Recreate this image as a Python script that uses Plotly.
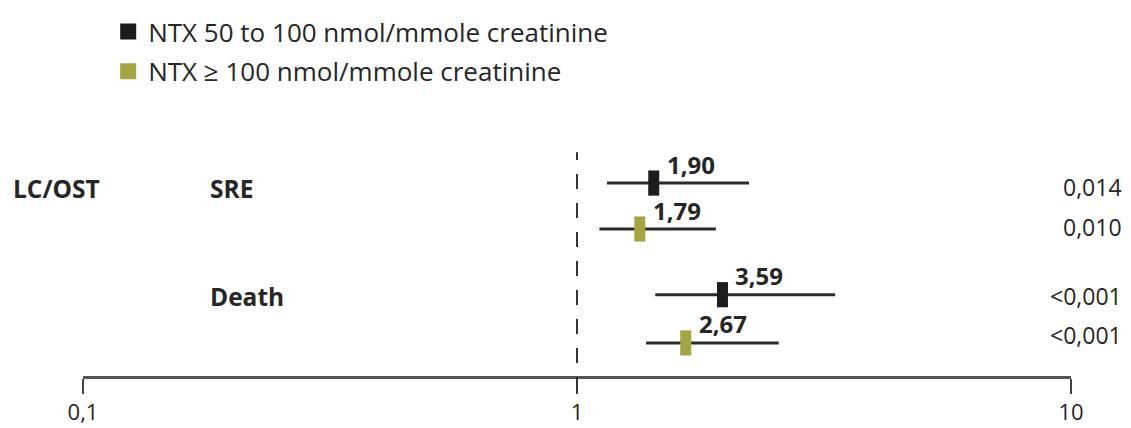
import math
import plotly.graph_objects as go

# ---- data ----
series_names = ["NTX 50 to 100 nmol/mmole creatinine", "NTX \u2265 100 nmol/mmole creatinine"]
series_colors = ["#1c1c1c", "#a4a545"]
group_label = "LC/OST"
outcome_labels = ["SRE", "Death"]
# rows: SRE (series 1), SRE (series 2), Death (series 1), Death (series 2)
row_series = [0, 1, 0, 1]
row_outcome = [0, 0, 1, 1]
hr_est = [1.43, 1.34, 1.97, 1.66]      # marker position as drawn
ci_low = [1.15, 1.11, 1.44, 1.38]
ci_high = [2.23, 1.91, 3.33, 2.56]
hr_labels = ["1,90", "1,79", "3,59", "2,67"]
p_values = ["0,014", "0,010", "<0,001", "<0,001"]
tick_vals = [0.1, 1, 10]
tick_text = ["0,1", "1", "10"]

# ---- layout constants ----
row_pos = [0, 1, 2.43, 3.48]
p_shift = [-3.5, 2.5, -1.5, 7.5]
FONT = "Open Sans"
TXT = "#262626"

fig = go.Figure()

for s, (name, color) in enumerate(zip(series_names, series_colors)):
    idx = [i for i in range(len(hr_est)) if row_series[i] == s]
    xs = [hr_est[i] for i in idx]
    fig.add_trace(go.Scatter(
        x=xs, y=[row_pos[i] for i in idx], mode="markers", showlegend=False,
        marker=dict(symbol="line-ns", size=18, color=color,
                    line=dict(width=11, color=color)),
        error_x=dict(type="data", symmetric=False,
                     array=[ci_high[i] - hr_est[i] for i in idx],
                     arrayminus=[hr_est[i] - ci_low[i] for i in idx],
                     thickness=3, width=0, color="#2b2b2b"),
        hoverinfo="skip"))
    # legend entry
    fig.add_trace(go.Scatter(
        x=[None], y=[None], mode="markers", name=name, legendgroup=f"g{s}",
        marker=dict(symbol="square", size=16, color=color)))

annotations = []
for i in range(len(hr_est)):
    annotations.append(dict(
        x=math.log10(hr_est[i]), y=row_pos[i], xref="x", yref="y",
        text=f"<b>{hr_labels[i]}</b>", showarrow=False, xanchor="left", yanchor="middle",
        xshift=11, yshift=19, font=dict(family=FONT, size=24, color=TXT)))
    annotations.append(dict(
        x=1.0537, y=row_pos[i], xref="paper", yref="y", text=p_values[i],
        showarrow=False, xanchor="right", yanchor="middle", yshift=p_shift[i],
        font=dict(family=FONT, size=23, color=TXT)))

annotations.append(dict(x=-0.073, y=row_pos[0], xref="paper", yref="y",
                        text=f"<b>{group_label}</b>", showarrow=False,
                        xanchor="left", yanchor="middle", yshift=-5,
                        font=dict(family=FONT, size=24.5, color=TXT)))
outcome_shift = [-5, -2]
for k, lab in enumerate(outcome_labels):
    r = [i for i in range(len(hr_est)) if row_outcome[i] == k][0]
    annotations.append(dict(x=0.1265, y=row_pos[r], xref="paper", yref="y",
                            text=f"<b>{lab}</b>", showarrow=False,
                            xanchor="left", yanchor="middle", yshift=outcome_shift[k],
                            font=dict(family=FONT, size=24.5, color=TXT)))

fig.update_layout(
    width=1123, height=420, autosize=False,
    paper_bgcolor="white", plot_bgcolor="white",
    margin=dict(l=75, r=60, t=142, b=52, autoexpand=False),
    font=dict(family=FONT, color=TXT),
    annotations=annotations,
    shapes=[dict(type="line", xref="x", yref="paper", x0=1, x1=1, y0=-0.071, y1=0.99,
                 line=dict(color="#333333", width=2, dash="15px,14px"))],
    legend=dict(x=0.0255, y=1.628, xanchor="left", yanchor="top",
                font=dict(family=FONT, size=26, color=TXT),
                tracegroupgap=3, bgcolor="rgba(0,0,0,0)"),
    xaxis=dict(type="log", range=[-1, 1], showline=True, linecolor="#555555", linewidth=3,
               ticks="outside", ticklen=15, tickwidth=2, tickcolor="#444444",
               tickvals=tick_vals, ticktext=tick_text, showgrid=False, zeroline=False,
               ticklabelstandoff=0, automargin=False,
               tickfont=dict(family=FONT, size=22, color=TXT)),
    yaxis=dict(visible=False, range=[4.2, -0.72], showgrid=False, zeroline=False,
               automargin=False),
)

fig.write_html("out.html")
